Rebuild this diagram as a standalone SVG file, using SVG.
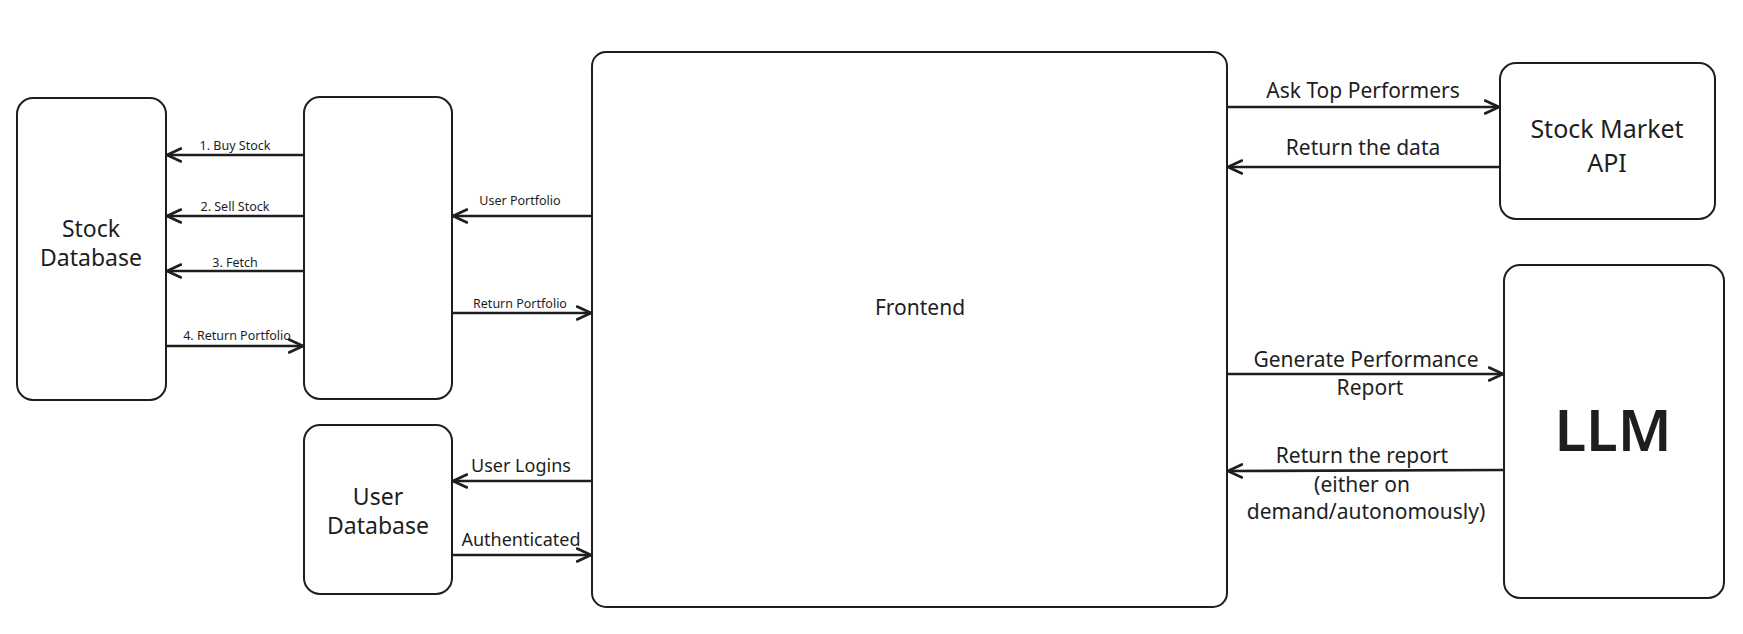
<svg xmlns="http://www.w3.org/2000/svg" width="1743" height="634" viewBox="0 0 1743 634">
<style>
.box{fill:#fff;stroke:#1e1e1e;stroke-width:2}
.edge{fill:none;stroke:#1e1e1e;stroke-width:2.6}
text{font-family:"Noto Sans","Liberation Sans",sans-serif;fill:#1e1e1e;text-anchor:middle;dominant-baseline:central}
.n{font-size:23px}
.s{font-size:12.5px}
.m{font-size:18px}
.l{font-size:21px}
</style>
<defs>
<marker id="ah" markerWidth="18" markerHeight="16" refX="15" refY="8" orient="auto" markerUnits="userSpaceOnUse">
<path d="M1,1.5 L15,8 L1,14.5" fill="none" stroke="#1e1e1e" stroke-width="2.6" stroke-linecap="round" stroke-linejoin="round"/>
</marker>
</defs>
<rect width="1743" height="634" fill="#fff"/>
<g id="stock-database">
<rect class="box" x="17" y="98" width="149" height="302" rx="16"/>
<text class="n" x="91" y="228">Stock</text>
<text class="n" x="91" y="257">Database</text>
</g>
<g id="portfolio-service">
<rect class="box" x="304" y="97" width="148" height="302" rx="16"/>
</g>
<g id="user-database">
<rect class="box" x="304" y="425" width="148" height="169" rx="16"/>
<text class="n" x="378" y="496">User</text>
<text class="n" x="378" y="525">Database</text>
</g>
<g id="frontend">
<rect class="box" x="592" y="52" width="635" height="555" rx="14" stroke-width="2.5"/>
<text class="n" x="920" y="307" style="font-size:21px">Frontend</text>
</g>
<g id="stock-market-api">
<rect class="box" x="1500" y="63" width="215" height="156" rx="16"/>
<text class="n" x="1607" y="128" style="font-size:25px">Stock Market</text>
<text class="n" x="1607" y="162" style="font-size:25px">API</text>
</g>
<g id="llm">
<rect class="box" x="1504" y="265" width="220" height="333" rx="16"/>
<text x="1613" y="428" style="font-size:58px;font-weight:600">LLM</text>
</g>
<g id="connectors">
<line class="edge" x1="304" y1="155" x2="167" y2="155" marker-end="url(#ah)"/>
<text class="s" x="235" y="145">1. Buy Stock</text>
<line class="edge" x1="304" y1="216" x2="167" y2="216" marker-end="url(#ah)"/>
<text class="s" x="235" y="206">2. Sell Stock</text>
<line class="edge" x1="304" y1="271" x2="167" y2="271" marker-end="url(#ah)"/>
<text class="s" x="235" y="262">3. Fetch</text>
<line class="edge" x1="166" y1="346" x2="303" y2="346" marker-end="url(#ah)"/>
<text class="s" x="237" y="335">4. Return Portfolio</text>
<line class="edge" x1="592" y1="216" x2="453" y2="216" marker-end="url(#ah)"/>
<text class="s" x="520" y="200">User Portfolio</text>
<line class="edge" x1="452" y1="313" x2="591" y2="313" marker-end="url(#ah)"/>
<text class="s" x="520" y="303">Return Portfolio</text>
<line class="edge" x1="592" y1="481" x2="453" y2="481" marker-end="url(#ah)"/>
<text class="m" x="521" y="465">User Logins</text>
<line class="edge" x1="452" y1="555" x2="591" y2="555" marker-end="url(#ah)"/>
<text class="m" x="521" y="539">Authenticated</text>
<line class="edge" x1="1227" y1="107" x2="1499" y2="107" marker-end="url(#ah)"/>
<text class="l" x="1363" y="90">Ask Top Performers</text>
<line class="edge" x1="1500" y1="167" x2="1228" y2="167" marker-end="url(#ah)"/>
<text class="l" x="1363" y="147">Return the data</text>
<line class="edge" x1="1227" y1="374" x2="1503" y2="374" marker-end="url(#ah)"/>
<text class="l" x="1366" y="359">Generate Performance</text>
<text class="l" x="1370" y="387">Report</text>
<line class="edge" x1="1504" y1="470" x2="1228" y2="471" marker-end="url(#ah)"/>
<text class="l" x="1362" y="455">Return the report</text>
<text class="l" x="1362" y="484">(either on</text>
<text class="l" x="1366" y="511">demand/autonomously)</text>
</g>
</svg>
